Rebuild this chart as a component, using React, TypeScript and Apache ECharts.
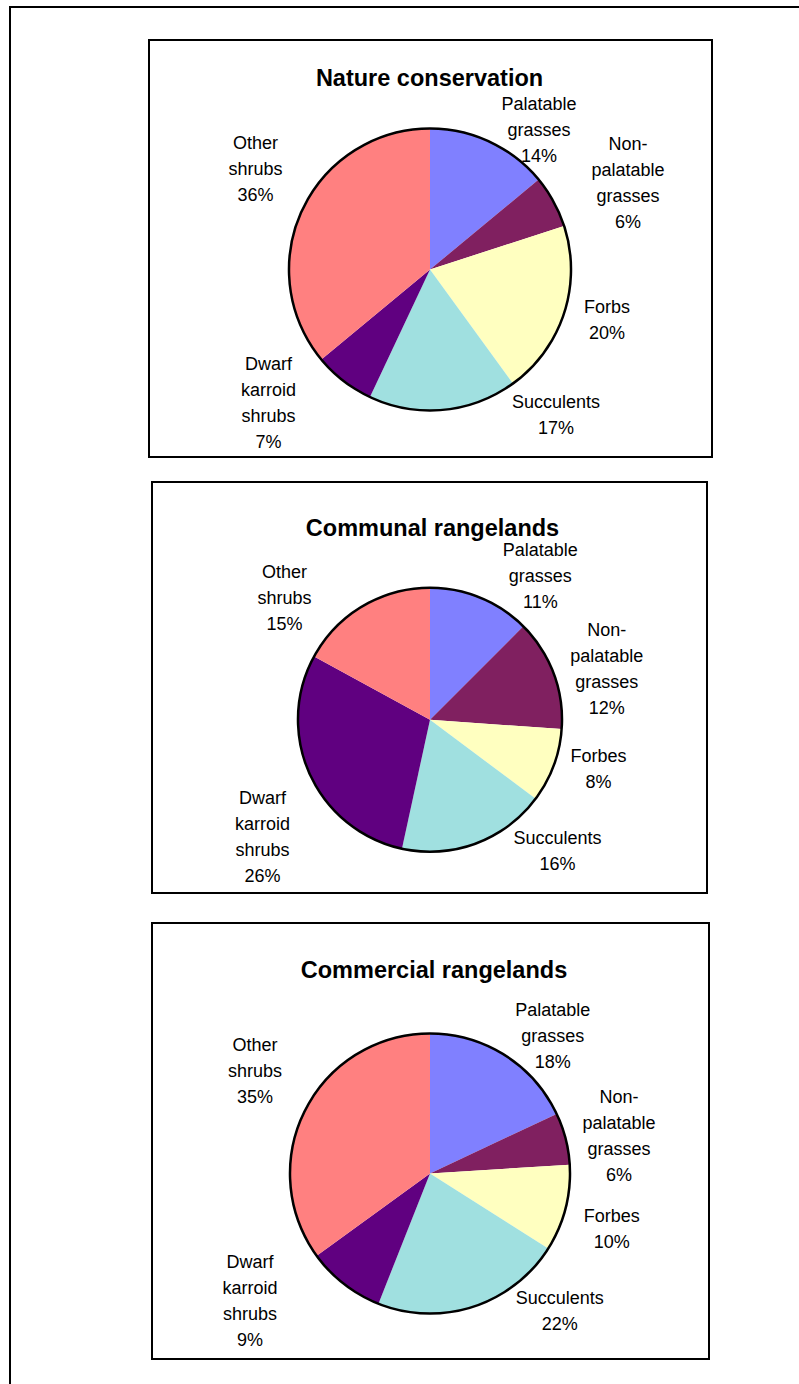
import React, { useEffect, useRef } from "react";
import * as echarts from "echarts";

// ---------- data ----------
const TITLES = ["Nature conservation", "Communal rangelands", "Commercial rangelands"];
const CATEGORIES_NATURE = [
  "Palatable\ngrasses",
  "Non-\npalatable\ngrasses",
  "Forbs",
  "Succulents",
  "Dwarf\nkarroid\nshrubs",
  "Other\nshrubs",
];
const CATEGORIES_RANGELAND = [
  "Palatable\ngrasses",
  "Non-\npalatable\ngrasses",
  "Forbes",
  "Succulents",
  "Dwarf\nkarroid\nshrubs",
  "Other\nshrubs",
];
const NATURE_VALUES = [14, 6, 20, 17, 7, 36];
const COMMUNAL_VALUES = [11, 12, 8, 16, 26, 15];
const COMMERCIAL_VALUES = [18, 6, 10, 22, 9, 35];

const SLICE_COLORS = ["#8080FF", "#802060", "#FFFFC0", "#A0E0E0", "#600080", "#FF8080"];

// ---------- layout ----------
const W = 799;
const H = 1384;
const FONT = '"Liberation Sans", Arial, Helvetica, sans-serif';

const PANELS = [
  {
    categories: CATEGORIES_NATURE,
    values: NATURE_VALUES,
    box: [149, 40, 563, 417],
    center: [430, 269.5],
    radius: 141,
    titleX: 429.5,
    titleY: 78,
    labelOffsets: [
      [109, -139.5],
      [198, -86.5],
      [177, 50.5],
      [126, 145.3],
      [-161.5, 133.5],
      [-174.5, -101],
    ],
  },
  {
    categories: CATEGORIES_RANGELAND,
    values: COMMUNAL_VALUES,
    box: [152, 482, 555, 411],
    center: [430, 719.7],
    radius: 132,
    titleX: 432.5,
    titleY: 527.5,
    labelOffsets: [
      [110.3, -143.9],
      [176.7, -50.7],
      [168.5, 49],
      [127.5, 131.3],
      [-167.5, 116.9],
      [-145.5, -121.4],
    ],
  },
  {
    categories: CATEGORIES_RANGELAND,
    values: COMMERCIAL_VALUES,
    box: [152, 923, 557, 436],
    center: [430, 1173.5],
    radius: 140,
    titleX: 434,
    titleY: 969.5,
    labelOffsets: [
      [122.7, -137.5],
      [189, -38],
      [181.8, 55.1],
      [129.7, 137.2],
      [-180, 127.3],
      [-175, -103],
    ],
  },
];

function buildOption() {
  const pieSeries: any[] = PANELS.map((p, pi) => ({
    type: "pie",
    name: TITLES[pi],
    center: p.center,
    radius: [0, p.radius],
    startAngle: 90,
    clockwise: true,
    avoidLabelOverlap: false,
    silent: true,
    data: p.values.map((v, i) => ({
      name: p.categories[i],
      value: v,
      itemStyle: { color: SLICE_COLORS[i] },
    })),
    itemStyle: { borderWidth: 0 },
    label: {
      show: true,
      position: "outside",
      formatter: "{b}\n{c}%",
      fontFamily: FONT,
      fontSize: 18,
      lineHeight: 26,
      color: "#000",
      align: "center",
    },
    labelLine: { show: false },
    labelLayout: (params: any) => {
      const off = p.labelOffsets[params.dataIndex];
      return {
        x: p.center[0] + off[0],
        y: p.center[1] + off[1],
        align: "center",
        verticalAlign: "middle",
      };
    },
    z: 2,
  }));

  const outlineSeries: any[] = PANELS.map((p) => ({
    type: "pie",
    center: p.center,
    radius: [0, p.radius],
    silent: true,
    data: [{ value: 1, name: "" }],
    itemStyle: { color: "rgba(0,0,0,0)", borderColor: "#000", borderWidth: 2.5 },
    label: { show: false },
    labelLine: { show: false },
    z: 3,
  }));

  const graphics: any[] = [
    {
      type: "polyline",
      shape: { points: [[10, H], [10, 7], [W, 7]] },
      style: { stroke: "#000", lineWidth: 2, fill: null },
      z: 1,
    },
  ];
  PANELS.forEach((p, pi) => {
    graphics.push({
      type: "rect",
      shape: { x: p.box[0], y: p.box[1], width: p.box[2], height: p.box[3] },
      style: { stroke: "#000", lineWidth: 2, fill: "#fff" },
      z: 0,
    });
    graphics.push({
      type: "text",
      x: p.titleX,
      y: p.titleY,
      style: {
        text: TITLES[pi],
        font: `bold 23.5px ${FONT}`,
        fill: "#000",
        align: "center",
        verticalAlign: "middle",
      },
      z: 5,
    });
  });

  return {
    animation: false,
    backgroundColor: "#fff",
    graphic: graphics,
    series: [...pieSeries, ...outlineSeries],
  };
}

export default function App() {
  const ref = useRef<HTMLDivElement>(null);
  useEffect(() => {
    if (!ref.current) return;
    const chart = echarts.init(ref.current, undefined, { renderer: "svg", width: W, height: H });
    chart.setOption(buildOption());
    return () => chart.dispose();
  }, []);
  return (
    <div
      ref={ref}
      style={{ position: "absolute", left: 0, top: 0, width: W, height: H }}
    />
  );
}
